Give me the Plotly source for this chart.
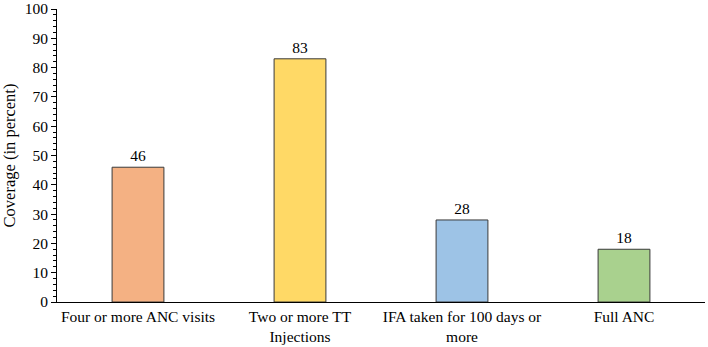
import plotly.graph_objects as go

categories = ["Four or more ANC visits", "Two or more TT<br>Injections",
              "IFA taken for 100 days or<br>more", "Full ANC"]
values = [46, 83, 28, 18]
colors = ["#F4B183", "#FFD966", "#9DC3E6", "#A9D18E"]
y_ticks = [0, 10, 20, 30, 40, 50, 60, 70, 80, 90, 100]

font = "Liberation Serif"

fig = go.Figure(go.Bar(
    x=categories, y=values, width=0.32,
    marker=dict(color=colors, line=dict(color="#3a3a3a", width=1)),
    text=[str(v) for v in values], textposition="outside",
    textfont=dict(family=font, size=15.5, color="black"),
    cliponaxis=False,
))
fig.update_layout(
    width=708, height=347,
    margin=dict(l=57, r=3, t=9, b=45),
    plot_bgcolor="white", paper_bgcolor="white",
    font=dict(family=font, size=15, color="black"),
    showlegend=False,
)
fig.update_yaxes(
    range=[0, 100], tickmode="array", tickvals=y_ticks,
    ticktext=[str(t) for t in y_ticks],
    showgrid=False, zeroline=False, automargin=False,
    ticklabeloverflow="allow",
    showline=True, linecolor="black", linewidth=1,
    ticks="outside", ticklen=5, tickcolor="black",
    minor=dict(dtick=2, tick0=0, ticks="outside", ticklen=3, tickcolor="black", showgrid=False),
    title=dict(text="Coverage (in percent)", font=dict(family=font, size=16.5), standoff=4),
    tickfont=dict(family=font, size=15.5),
)
fig.update_xaxes(
    showline=True, linecolor="black", linewidth=1, ticks="", ticklen=0,
    automargin=False, ticklabeloverflow="allow",
    tickfont=dict(family=font, size=15.5),
)
fig.write_html("out.html", config={"displayModeBar": False},
               post_script="document.body.style.margin='0';")
